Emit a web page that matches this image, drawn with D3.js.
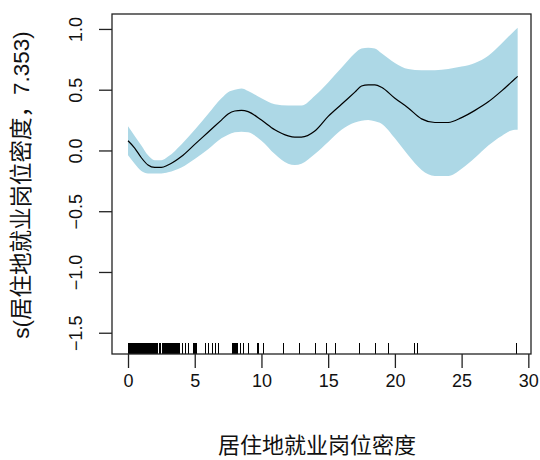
<!DOCTYPE html>
<html>
<head>
<meta charset="utf-8">
<script src="https://cdn.jsdelivr.net/npm/d3@7"></script>
<style>
  html, body { margin: 0; padding: 0; background: #fff; }
  svg { display: block; }
</style>
</head>
<body>
<script>
// Smooth term estimate and its confidence band
const xs    = [0, 0.5, 1, 1.5, 2, 2.5, 3, 4, 5, 6, 7, 7.5, 8, 8.5, 9, 10, 11, 12, 12.5, 13, 14, 15, 16, 17, 17.5, 18, 18.5, 19, 20, 21, 22, 23, 24, 25, 26, 27, 28, 29, 29.2];
const fit   = [0.08, 0.02, -0.06, -0.12, -0.14, -0.14, -0.12, -0.05, 0.05, 0.15, 0.25, 0.30, 0.325, 0.33, 0.32, 0.25, 0.17, 0.12, 0.11, 0.11, 0.16, 0.28, 0.38, 0.48, 0.53, 0.54, 0.54, 0.52, 0.43, 0.35, 0.26, 0.23, 0.23, 0.27, 0.33, 0.40, 0.49, 0.59, 0.61];
const upper = [0.20, 0.12, 0.04, -0.04, -0.08, -0.08, -0.05, 0.05, 0.17, 0.30, 0.43, 0.48, 0.50, 0.51, 0.49, 0.43, 0.38, 0.37, 0.37, 0.37, 0.45, 0.56, 0.68, 0.80, 0.84, 0.845, 0.84, 0.80, 0.72, 0.67, 0.66, 0.66, 0.67, 0.69, 0.72, 0.78, 0.88, 0.99, 1.01];
const lower = [-0.04, -0.11, -0.17, -0.19, -0.19, -0.19, -0.18, -0.14, -0.07, 0.01, 0.10, 0.13, 0.15, 0.155, 0.15, 0.08, -0.03, -0.11, -0.12, -0.11, -0.03, 0.07, 0.17, 0.23, 0.245, 0.25, 0.24, 0.22, 0.10, -0.04, -0.16, -0.21, -0.21, -0.15, -0.06, 0.04, 0.12, 0.17, 0.17];

// Observed covariate values shown as a rug
const rugX = [0.02, 0.1, 0.18, 0.25, 0.33, 0.4, 0.48, 0.55, 0.62, 0.7, 0.78, 0.85, 0.92, 1.0, 1.08, 1.15, 1.22, 1.3, 1.38, 1.45, 1.52, 1.6, 1.68, 1.75, 1.82, 1.9, 1.98, 2.05, 2.12, 2.2, 2.3, 2.38,
  2.55, 2.62, 2.7, 2.78, 2.85, 2.92, 3.0, 3.08, 3.15, 3.22, 3.3, 3.38, 3.45, 3.52, 3.6, 3.68, 3.75, 3.85,
  4.05, 4.28, 4.52, 4.9, 4.98, 5.05, 5.12, 5.78, 6.03, 6.28, 6.53, 6.77,
  7.78, 7.85, 7.92, 8.0, 8.08, 8.15, 8.4, 8.65, 9.0, 9.7, 9.75, 10.1, 10.15,
  11.6, 12.85, 14.03, 14.8, 15.5, 17.3, 18.5, 19.5, 21.4, 21.65, 29.05];

const xTicks = [0, 5, 10, 15, 20, 25, 30];
const yTicks = [-1.5, -1.0, -0.5, 0.0, 0.5, 1.0];

const xTitle = "居住地就业岗位密度";
const yTitle = "s(居住地就业岗位密度，7.353)";

const W = 540, H = 460;
const box = { left: 112, right: 531, top: 14, bottom: 354 };

const svg = d3.select("body").append("svg")
  .attr("width", W).attr("height", H)
  .style("background", "#fff");

const x = d3.scaleLinear().domain([-1.2, 30.2]).range([box.left, box.right]);
const y = d3.scaleLinear().domain([-1.675, 1.123]).range([box.bottom, box.top]);

const pts = xs.map((v, i) => ({ x: v, f: fit[i], lo: lower[i], hi: upper[i] }));

// Confidence band
svg.append("path")
  .datum(pts)
  .attr("fill", "#ADD8E6")
  .attr("d", d3.area()
    .x(d => x(d.x))
    .y0(d => y(d.lo))
    .y1(d => y(d.hi))
    .curve(d3.curveMonotoneX));

// Estimated smooth
svg.append("path")
  .datum(pts)
  .attr("fill", "none")
  .attr("stroke", "#000")
  .attr("stroke-width", 1.2)
  .attr("d", d3.line()
    .x(d => x(d.x))
    .y(d => y(d.f))
    .curve(d3.curveMonotoneX));

// Rug
svg.append("g")
  .selectAll("line")
  .data(rugX)
  .join("line")
  .attr("x1", d => Math.round(x(d)) + 0.5)
  .attr("x2", d => Math.round(x(d)) + 0.5)
  .attr("y1", box.bottom)
  .attr("y2", box.bottom - 11)
  .attr("stroke", "#000")
  .attr("stroke-width", 1);

// Plot frame
svg.append("rect")
  .attr("x", box.left).attr("y", box.top)
  .attr("width", box.right - box.left)
  .attr("height", box.bottom - box.top)
  .attr("fill", "none")
  .attr("stroke", "#222")
  .attr("stroke-width", 1.3);

// Axes
const xAxis = d3.axisBottom(x).tickValues(xTicks).tickSize(14).tickPadding(6)
  .tickFormat(d3.format("d"));
const gx = svg.append("g").attr("transform", `translate(0,${box.bottom})`).call(xAxis);
gx.select(".domain").remove();
gx.selectAll("line").attr("stroke", "#222").attr("stroke-width", 1.3);
gx.selectAll("text")
  .attr("font-family", "'Liberation Sans', Arial, sans-serif")
  .attr("font-size", 18)
  .attr("fill", "#111");

const yAxis = d3.axisLeft(y).tickValues(yTicks).tickSize(13)
  .tickFormat(d3.format(".1f"));
const gy = svg.append("g").attr("transform", `translate(${box.left},0)`).call(yAxis);
gy.select(".domain").remove();
gy.selectAll("line").attr("stroke", "#222").attr("stroke-width", 1.3);
gy.selectAll("text")
  .attr("font-family", "'Liberation Sans', Arial, sans-serif")
  .attr("font-size", 18)
  .attr("fill", "#111")
  .attr("text-anchor", "middle")
  .attr("dy", "0")
  .attr("x", 0)
  .attr("transform", "translate(-36,0) rotate(-90)")
  .attr("dominant-baseline", "central");

// Axis titles
svg.append("text")
  .attr("x", 317).attr("y", 453)
  .attr("text-anchor", "middle")
  .attr("font-family", "'Noto Sans CJK SC', sans-serif")
  .attr("font-size", 22)
  .attr("fill", "#111")
  .text(xTitle);

svg.append("text")
  .attr("transform", "translate(29,185) rotate(-90)")
  .attr("text-anchor", "middle")
  .attr("font-family", "'Liberation Sans', 'Noto Sans CJK SC', sans-serif")
  .attr("font-size", 22.5)
  .attr("fill", "#111")
  .text(yTitle);
</script>
</body>
</html>
